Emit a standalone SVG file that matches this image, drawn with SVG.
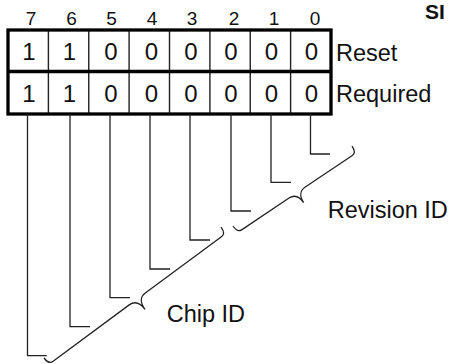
<svg xmlns="http://www.w3.org/2000/svg" width="450" height="364" viewBox="0 0 450 364">
<style>
text{font-family:"Liberation Sans",Arial,sans-serif;fill:#111}
.hd{font-size:19px;text-anchor:middle}
.dg{font-size:24px;text-anchor:middle}
.lb{font-size:23.5px}
.thick{fill:none;stroke:#000;stroke-width:3.3}
.thin{stroke:#222;stroke-width:1.4;fill:none}
.ln{stroke:#222;stroke-width:1.3;fill:none}
</style>
<rect width="450" height="364" fill="#fff"/>
<g id="title"><text x="425" y="18.5" style="font-size:21px;font-weight:bold">SI</text></g>
<g id="header">
<text class="hd" x="31" y="25">7</text>
<text class="hd" x="71.5" y="25">6</text>
<text class="hd" x="111.5" y="25">5</text>
<text class="hd" x="152" y="25">4</text>
<text class="hd" x="192" y="25">3</text>
<text class="hd" x="234" y="25">2</text>
<text class="hd" x="274" y="25">1</text>
<text class="hd" x="315" y="25">0</text>
</g>
<g id="register">
<path class="thin" d="M48.4,30V114M88.75,30V114M129.1,30V114M169.5,30V114M209.9,30V114M250.25,30V114M290.6,30V114"/>
<rect class="thick" x="8" y="30" width="323" height="84"/>
<line class="thick" x1="8" y1="71.5" x2="331" y2="71.5"/>
<g id="row-reset">
<text class="dg" x="29" y="59.8">1</text>
<text class="dg" x="69.5" y="59.8">1</text>
<text class="dg" x="111" y="59.8">0</text>
<text class="dg" x="151.5" y="59.8">0</text>
<text class="dg" x="191" y="59.8">0</text>
<text class="dg" x="231" y="59.8">0</text>
<text class="dg" x="271.5" y="59.8">0</text>
<text class="dg" x="311.5" y="59.8">0</text>
</g>
<g id="row-required">
<text class="dg" x="29" y="101.8">1</text>
<text class="dg" x="69.5" y="101.8">1</text>
<text class="dg" x="111" y="101.8">0</text>
<text class="dg" x="151.5" y="101.8">0</text>
<text class="dg" x="191" y="101.8">0</text>
<text class="dg" x="231" y="101.8">0</text>
<text class="dg" x="271.5" y="101.8">0</text>
<text class="dg" x="311.5" y="101.8">0</text>
</g>
</g>
<g id="label-reset"><text class="lb" x="336" y="61">Reset</text></g>
<g id="label-required"><text class="lb" x="336" y="101.7">Required</text></g>
<g id="connectors">
<path class="ln" d="M27.5,114V355.7H46.7"/>
<path class="ln" d="M70,114V326.7H90"/>
<path class="ln" d="M110,114V297.7H130"/>
<path class="ln" d="M150,114V269H170"/>
<path class="ln" d="M190,114V240H210"/>
<path class="ln" d="M231,114V211H251"/>
<path class="ln" d="M271,114V182.3H291"/>
<path class="ln" d="M310.5,114V154H330"/>
</g>
<g id="brace-revision">
<path class="ln" transform="translate(233,226) rotate(-33.9)" d="M0,0 C0,5 1.5,8 5,8 L61.7,8 C67.7,8 71.7,12 71.7,20 C71.7,12 75.7,8 81.7,8 L138.4,8 C141.9,8 143.4,5 143.4,0"/>
<text class="lb" x="327.7" y="217.7">Revision ID</text>
</g>
<g id="brace-chip">
<path class="ln" transform="translate(44,358) rotate(-36.5)" d="M0,0 C0,5 1.5,8 5,8 L100.1,8 C106.1,8 110.1,12 110.1,21 C110.1,12 114.1,8 120.1,8 L215.2,8 C218.7,8 220.2,5 220.2,0"/>
<text class="lb" x="166.7" y="321.5">Chip ID</text>
</g>
</svg>
